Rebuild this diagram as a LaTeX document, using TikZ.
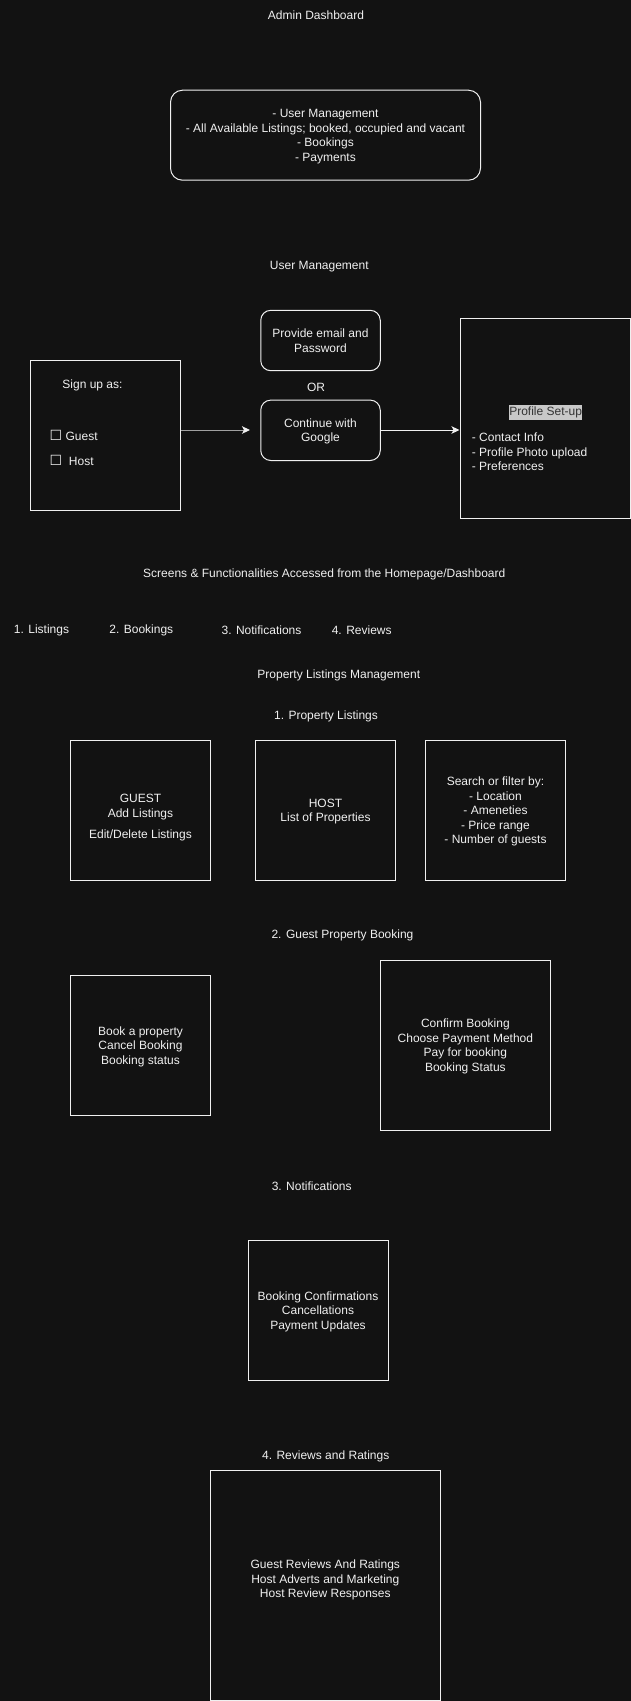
\documentclass[tikz,border=0pt]{standalone}
\usepackage{fontspec}
\setmainfont{Liberation Sans}
\newfontfamily\symbolfont{DejaVu Sans}
\usetikzlibrary{arrows.meta,positioning}
\definecolor{canvas}{RGB}{18,18,18}
\definecolor{ink}{RGB}{240,240,240}
\definecolor{greyline}{RGB}{160,160,160}
\definecolor{markbg}{RGB}{200,200,200}
\definecolor{markink}{RGB}{51,51,51}
\newcommand{\widthscreen}{140pt}
\newcommand{\widthwide}{170pt}
\newcommand{\cbox}{{\symbolfont\fontsize{14}{14}\selectfont ☐}}
\tikzset{
    common/.style={draw=ink, line width=1pt, text=ink, align=center, inner sep=0pt, text depth=0pt, font=\fontsize{12}{14.5}\selectfont},
    screen/.style={common, rectangle, minimum width=\widthscreen, minimum height=\widthscreen},
    wide/.style={common, rectangle, minimum width=\widthwide, minimum height=\widthwide},
    card/.style={common, rounded corners=10pt, minimum width=119.5pt, minimum height=60.4pt},
    caption/.style={text=ink, align=center, inner sep=0pt, yshift=-1pt, font=\fontsize{12}{14.5}\selectfont},
    link/.style={draw=ink, line width=1pt, -{Stealth[length=8pt, width=7.5pt, inset=2pt, color=ink]}}
}
\begin{document}
\begin{tikzpicture}[x=1pt, y=-1pt]
            \fill[canvas] (0,0) rectangle (631,1701);
            \useasboundingbox (0,0) rectangle (631,1701);

            \node[caption] (admintitle) at (316,14.7) {Admin Dashboard};
            \node[card, rounded corners=12pt, minimum width=310pt, minimum height=90pt] (admin) at (325.5,135.2) {- User Management\\- All Available Listings; booked, occupied and vacant\\- Bookings\\- Payments};

            \node[caption] (usertitle) at (319.3,265.7) {User Management};
            \node[common, minimum width=150pt, minimum height=150pt] (signup) at (105.5,435.3) {};
            \node[caption] (signas) at (92.5,384) {Sign up as:};
            \node[caption, anchor=west] (guest) at (49.5,434.5) {\cbox\ Guest};
            \node[caption, anchor=west] (host) at (49.5,459.7) {\cbox\ \ Host};
            \node[card] (email) at (320.5,340.5) {Provide email and\\Password};
            \node[caption] (or) at (316,386) {OR};
            \node[card] (google) at (320.5,430.3) {Continue with\\Google};
            \node[common, minimum width=170.5pt, minimum height=200pt] (profile) at (545.25,418.3) {};
            \node[caption, fill=markbg, text=markink, inner xsep=0.5pt, minimum height=14.7pt] (profiletitle) at (545.6,411.7) {Profile Set-up};
            \node[caption, anchor=west, align=left] (profilelist) at (471.7,451) {- Contact Info\\- Profile Photo upload\\- Preferences};
            \coordinate (gap) at (250,430);
            \draw[link, draw=greyline] (signup.east |- gap) -- (gap);
            \draw[link] (google.east |- gap) -- (profile.west |- gap);

            \node[caption] (screens) at (324.3,573.7) {Screens \& Functionalities Accessed from the Homepage/Dashboard};
            \path (41.5,629.5) node[caption] (tablistings) {1. Listings}
                to ++(0:99.8) node[caption] (tabbookings) {2. Bookings}
                to ++(0:120.2) node[caption] (tabnotes) {3. Notifications}
                to ++(0:100.2) node[caption] (tabreviews) {4. Reviews};

            \node[caption] (listtitle) at (338.8,674.7) {Property Listings Management};
            \node[caption] (proptitle) at (326,715.7) {1. Property Listings};
            \node[screen] (guestlist) at (140.5,810.3) {};
            \node[caption] (guesttext) at ([yshift=-6.4pt]guestlist.center) {GUEST\\Add Listings\\[6.5pt]Edit/Delete Listings};
            \node[screen, right=44pt of guestlist] (hostlist) {HOST\\List of Properties};
            \node[screen, right=29pt of hostlist] (search) {Search or filter by:\\- Location\\- Ameneties\\- Price range\\- Number of guests};

            \node[caption] (booktitle) at (342.5,934.7) {2. Guest Property Booking};
            \node[screen] (bookguest) at (140.5,1045.5) {Book a property\\Cancel Booking\\Booking status};
            \node[wide] (bookpay) at (465.4,1045.3) {Confirm Booking\\Choose Payment Method\\Pay for booking\\Booking Status};

            \node[caption] (notetitle) at (311.7,1184.8) {3. Notifications};
            \node[screen] (notes) at (318,1310.5) {Booking Confirmations\\Cancellations\\Payment Updates};

            \node[caption] (reviewtitle) at (325.7,1455) {4. Reviews and Ratings};
            \node[common, minimum width=230pt, minimum height=230pt] (reviews) at (325.3,1585.2) {};
            \node[caption] (reviewtext) at ([yshift=6pt]reviews.center) {Guest Reviews And Ratings\\Host Adverts and Marketing\\Host Review Responses};
        \end{tikzpicture}
\end{document}
